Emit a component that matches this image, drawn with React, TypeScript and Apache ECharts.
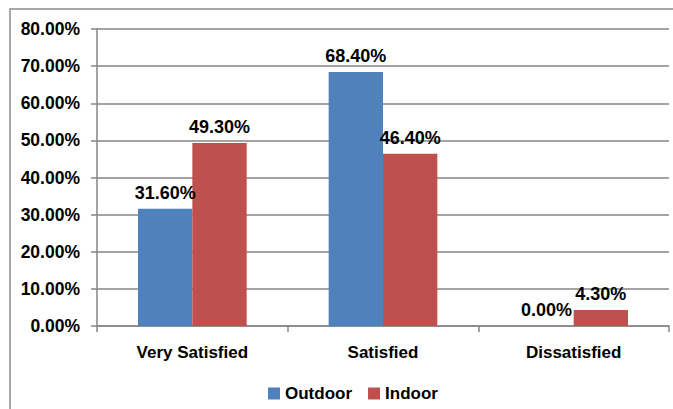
import React, { useEffect, useRef } from "react";
import * as echarts from "echarts";

const categories = ["Very Satisfied", "Satisfied", "Dissatisfied"];
const outdoor = [31.6, 68.4, 0.0];
const indoor = [49.3, 46.4, 4.3];
const seriesNames = ["Outdoor", "Indoor"];

const FONT = "'Liberation Sans', Arial, sans-serif";

export default function App() {
  const ref = useRef<HTMLDivElement>(null);
  useEffect(() => {
    if (!ref.current) return;
    const chart = echarts.init(ref.current, null, { renderer: "svg" });
    const label = {
      show: true,
      position: "top",
      distance: 7,
      formatter: (p: any) => p.value.toFixed(2) + "%",
      color: "#000",
      fontWeight: "bold",
      fontSize: 18,
      fontFamily: FONT,
    };
    chart.setOption({
      animation: false,
      backgroundColor: "#fff",
      textStyle: { fontFamily: FONT },
      graphic: [
        {
          type: "rect",
          shape: { x: 10, y: 9, width: 680, height: 420 },
          style: { fill: "none", stroke: "#8c8c8c", lineWidth: 1.5 },
          silent: true,
        },
      ],
      grid: { left: 97, right: 4, top: 29, bottom: 83 },
      legend: {
        left: 263,
        top: 380,
        itemWidth: 12,
        itemHeight: 12,
        itemGap: 16,
        icon: "rect",
        data: seriesNames,
        textStyle: { color: "#000", fontWeight: "bold", fontSize: 17, fontFamily: FONT },
      },
      xAxis: {
        type: "category",
        data: categories,
        axisLine: { lineStyle: { color: "#868686", width: 1.5 } },
        axisTick: { show: true, length: 6, lineStyle: { color: "#868686", width: 1.5 } },
        axisLabel: { margin: 18, color: "#000", fontWeight: "bold", fontSize: 17, fontFamily: FONT },
      },
      yAxis: {
        type: "value",
        min: 0,
        max: 80,
        interval: 10,
        axisLine: { show: true, lineStyle: { color: "#868686", width: 1.5 } },
        axisTick: { show: true, length: 6, lineStyle: { color: "#868686", width: 1.5 } },
        splitLine: { lineStyle: { color: "#868686", width: 1.5 } },
        axisLabel: {
          margin: 17,
          color: "#000",
          fontWeight: "bold",
          fontSize: 17.5,
          fontFamily: FONT,
          formatter: (v: number) => v.toFixed(2) + "%",
        },
      },
      series: [
        {
          name: seriesNames[0],
          type: "bar",
          data: outdoor,
          barGap: "0%",
          barCategoryGap: "43%",
          itemStyle: { color: "#4F81BD" },
          label,
        },
        {
          name: seriesNames[1],
          type: "bar",
          data: indoor,
          barGap: "0%",
          barCategoryGap: "43%",
          itemStyle: { color: "#C0504D" },
          label,
        },
      ],
    });
    return () => chart.dispose();
  }, []);
  return (
    <div
      ref={ref}
      style={{ position: "fixed", left: 0, top: 0, width: 673, height: 409 }}
    />
  );
}
